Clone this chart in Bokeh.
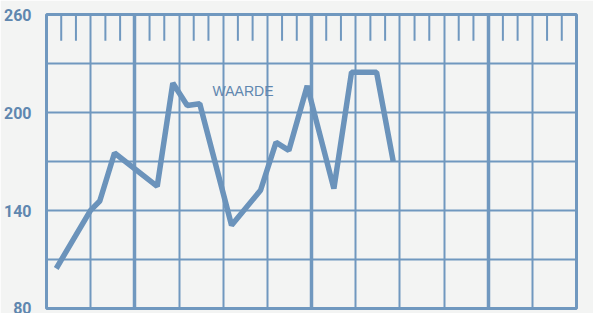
from bokeh.plotting import figure
from bokeh.models import Range1d, FixedTicker, Grid, Label
from bokeh.embed import file_html
from bokeh.resources import INLINE

# data (x in months, y = waarde)
months = [0.66, 2.99, 3.62, 4.62, 7.52, 8.58, 9.56, 10.41, 12.57, 14.54,
          15.59, 16.46, 17.71, 19.52, 20.72, 22.42, 23.55]
waarde = [104.5, 140.1, 145.8, 175.2, 154.8, 218.0, 204.3, 205.4, 131.0, 152.4,
          181.7, 176.8, 216.3, 153.4, 224.7, 224.7, 170.1]
y_ticks = [80, 140, 200, 260]
y_grid = [110, 140, 170, 200, 230]
x_grid = [3, 9, 12, 15, 21, 24, 27, 33]
x_grid_major = [6, 18, 30]
x_top_ticks = [m for m in range(1, 36) if m % 3 != 0]
series_label = "WAARDE"

BLUE = "#7098bf"
LINE = "#6b93bb"
TXT = "#5f87af"
BG = "#f3f4f3"

p = figure(width=593, height=313, output_backend="svg", toolbar_location=None,
           x_range=Range1d(0, 36), y_range=Range1d(80, 260),
           min_border_left=46, min_border_right=17, min_border_top=14, min_border_bottom=5,
           background_fill_color=BG, border_fill_color=BG,
           outline_line_color=BLUE, outline_line_width=3)

p.xaxis.visible = False
p.yaxis.ticker = FixedTicker(ticks=y_ticks)
p.yaxis.axis_line_color = None
p.yaxis.major_tick_line_color = None
p.yaxis.minor_tick_line_color = None
p.yaxis.major_label_standoff = 9
p.yaxis.major_label_text_font = "Roboto"
p.yaxis.major_label_text_font_style = "bold"
p.yaxis.major_label_text_font_size = "16px"
p.yaxis.major_label_text_color = TXT

p.xgrid.ticker = FixedTicker(ticks=x_grid)
p.xgrid.grid_line_color = BLUE
p.xgrid.grid_line_width = 2
p.ygrid.ticker = FixedTicker(ticks=y_grid)
p.ygrid.grid_line_color = BLUE
p.ygrid.grid_line_width = 2

p.add_layout(Grid(dimension=0, ticker=FixedTicker(ticks=x_grid_major),
                  grid_line_color=BLUE, grid_line_width=3.5))

# short tick marks hanging from the top edge
n = len(x_top_ticks)
p.segment(x0=x_top_ticks, y0=[260] * n, x1=x_top_ticks, y1=[244] * n,
          line_color=BLUE, line_width=2)

p.line(months, waarde, line_color=LINE, line_width=5.5)

p.add_layout(Label(x=13.35, y=212.9, text=series_label, text_align="center",
                   text_baseline="middle", text_font="Liberation Sans",
                   text_font_size="14px", text_color=TXT))

open("out.html", "w").write(file_html(p, INLINE))
